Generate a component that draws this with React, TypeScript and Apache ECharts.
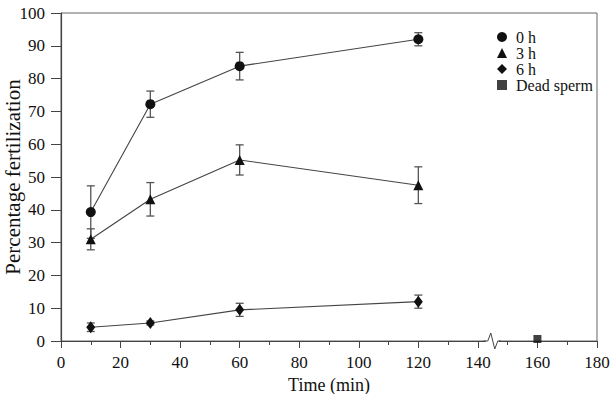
import React, { useEffect, useRef } from "react";
import * as echarts from "echarts";

const times = [10, 30, 60, 120];
const h0 = [39.3, 72.2, 83.8, 92];
const h0Err = [8, 4, 4.2, 2];
const h3 = [31, 43.2, 55.2, 47.5];
const h3Err = [3.2, 5.1, 4.6, 5.6];
const h6 = [4.2, 5.5, 9.5, 12];
const h6Err = [1.3, 0.6, 2, 2];
const deadTime = [160];
const dead = [0];
const breakAt = [145];
const seriesNames = ["0 h", "3 h", "6 h", "Dead sperm"];

const FONT = "'Liberation Serif', 'Times New Roman', serif";
const LINE = "#444";
const MARK = "#111";
const TEXT = "#111";

function pts(xs: number[], ys: number[]) {
  return xs.map((x, i) => [x, ys[i]]);
}
function errs(xs: number[], ys: number[], es: number[]) {
  return xs.map((x, i) => [x, ys[i] - es[i], ys[i] + es[i]]);
}

const errorRender = (params: any, api: any) => {
  const x = api.value(0);
  const lo = api.value(1);
  const hi = api.value(2);
  const a = api.coord([x, hi]);
  const b = api.coord([x, lo]);
  const w = 4;
  const st = { stroke: "#555", lineWidth: 1.3 };
  return {
    type: "group",
    children: [
      { type: "line", shape: { x1: a[0], y1: a[1], x2: b[0], y2: b[1] }, style: st },
      { type: "line", shape: { x1: a[0] - w, y1: a[1], x2: a[0] + w, y2: a[1] }, style: st },
      { type: "line", shape: { x1: b[0] - w, y1: b[1], x2: b[0] + w, y2: b[1] }, style: st },
    ],
  };
};

const breakRender = (params: any, api: any) => {
  const p = api.coord([api.value(0), api.value(1)]);
  return {
    type: "group",
    children: [
      {
        type: "line",
        shape: { x1: p[0] - 7, y1: p[1], x2: p[0] + 6, y2: p[1] },
        style: { stroke: "#fff", lineWidth: 3 },
      },
      {
        type: "polyline",
        shape: {
          points: [
            [p[0] - 9, p[1]],
            [p[0] - 5, p[1]],
            [p[0] - 2, p[1] - 8],
            [p[0] + 2, p[1] + 8],
            [p[0] + 5, p[1]],
            [p[0] + 8, p[1]],
          ],
        },
        style: { stroke: LINE, lineWidth: 1, fill: null },
      },
    ],
  };
};

function errorSeries(data: number[][]) {
  return {
    type: "custom",
    renderItem: errorRender,
    data,
    encode: { x: 0, y: [1, 2] },
    z: 1,
    silent: true,
    clip: false,
  };
}

export default function App() {
  const ref = useRef<HTMLDivElement>(null);
  useEffect(() => {
    if (!ref.current) return;
    const chart = echarts.init(ref.current, null, { renderer: "svg" });
    const lineSeries = (name: string, data: number[][], symbol: string, size: any) => ({
      name,
      type: "line",
      data,
      symbol,
      symbolSize: size,
      itemStyle: { color: MARK },
      lineStyle: { color: LINE, width: 1.1 },
      z: 3,
      clip: false,
    });
    chart.setOption({
      animation: false,
      textStyle: { fontFamily: FONT },
      grid: {
        left: 61,
        right: 15,
        top: 13,
        bottom: 53,
        outerBoundsMode: "none",
        containLabel: false,
        show: true,
        borderColor: "#666",
        borderWidth: 1,
      },
      legend: {
        orient: "vertical",
        left: 492,
        top: 24,
        itemWidth: 10,
        itemHeight: 10,
        itemGap: 0,
        textStyle: {
          fontFamily: FONT,
          fontSize: 16,
          lineHeight: 16,
          color: TEXT,
          padding: [0, 0, 0, 4],
        },
        data: [
          { name: seriesNames[0], icon: "circle" },
          { name: seriesNames[1], icon: "triangle" },
          { name: seriesNames[2], icon: "diamond" },
          { name: seriesNames[3], icon: "rect" },
        ],
      },
      xAxis: {
        type: "value",
        min: 0,
        max: 180,
        interval: 20,
        name: "Time (min)",
        nameLocation: "middle",
        nameGap: 35,
        nameMoveOverlap: false,
        nameTextStyle: { fontFamily: FONT, fontSize: 18, color: TEXT },
        axisLine: { lineStyle: { color: LINE, width: 1.2 } },
        axisTick: { show: true, length: 7, lineStyle: { color: LINE } },
        minorTick: { show: true, splitNumber: 2, length: 4, lineStyle: { color: LINE } },
        splitLine: { show: false },
        axisLabel: { fontFamily: FONT, fontSize: 17, color: TEXT, margin: 13 },
      },
      yAxis: {
        type: "value",
        min: 0,
        max: 100,
        interval: 10,
        name: "Percentage fertilization",
        nameLocation: "middle",
        nameGap: 38,
        nameMoveOverlap: false,
        nameTextStyle: { fontFamily: FONT, fontSize: 21, color: TEXT },
        axisLine: { show: true, lineStyle: { color: LINE, width: 1.2 } },
        axisTick: { show: true, length: 10, lineStyle: { color: LINE } },
        splitLine: { show: false },
        axisLabel: { fontFamily: FONT, fontSize: 17, color: TEXT, margin: 16 },
      },
      series: [
        errorSeries(errs(times, h0, h0Err)),
        errorSeries(errs(times, h3, h3Err)),
        errorSeries(errs(times, h6, h6Err)),
        lineSeries(seriesNames[0], pts(times, h0), "circle", 10),
        lineSeries(seriesNames[1], pts(times, h3), "triangle", 10),
        lineSeries(seriesNames[2], pts(times, h6), "diamond", [9, 12]),
        {
          name: seriesNames[3],
          type: "scatter",
          data: pts(deadTime, dead),
          symbol: "rect",
          symbolSize: 8,
          symbolOffset: [0, -2],
          itemStyle: { color: MARK },
          z: 4,
          clip: false,
        },
        {
          type: "custom",
          renderItem: breakRender,
          data: pts(breakAt, [0]),
          encode: { x: 0, y: 1 },
          z: 5,
          clip: false,
          silent: true,
        },
      ],
    });
    return () => chart.dispose();
  }, []);
  return (
    <div
      ref={ref}
      style={{ position: "fixed", left: 0, top: 0, width: 612, height: 394, background: "#fff" }}
    />
  );
}
